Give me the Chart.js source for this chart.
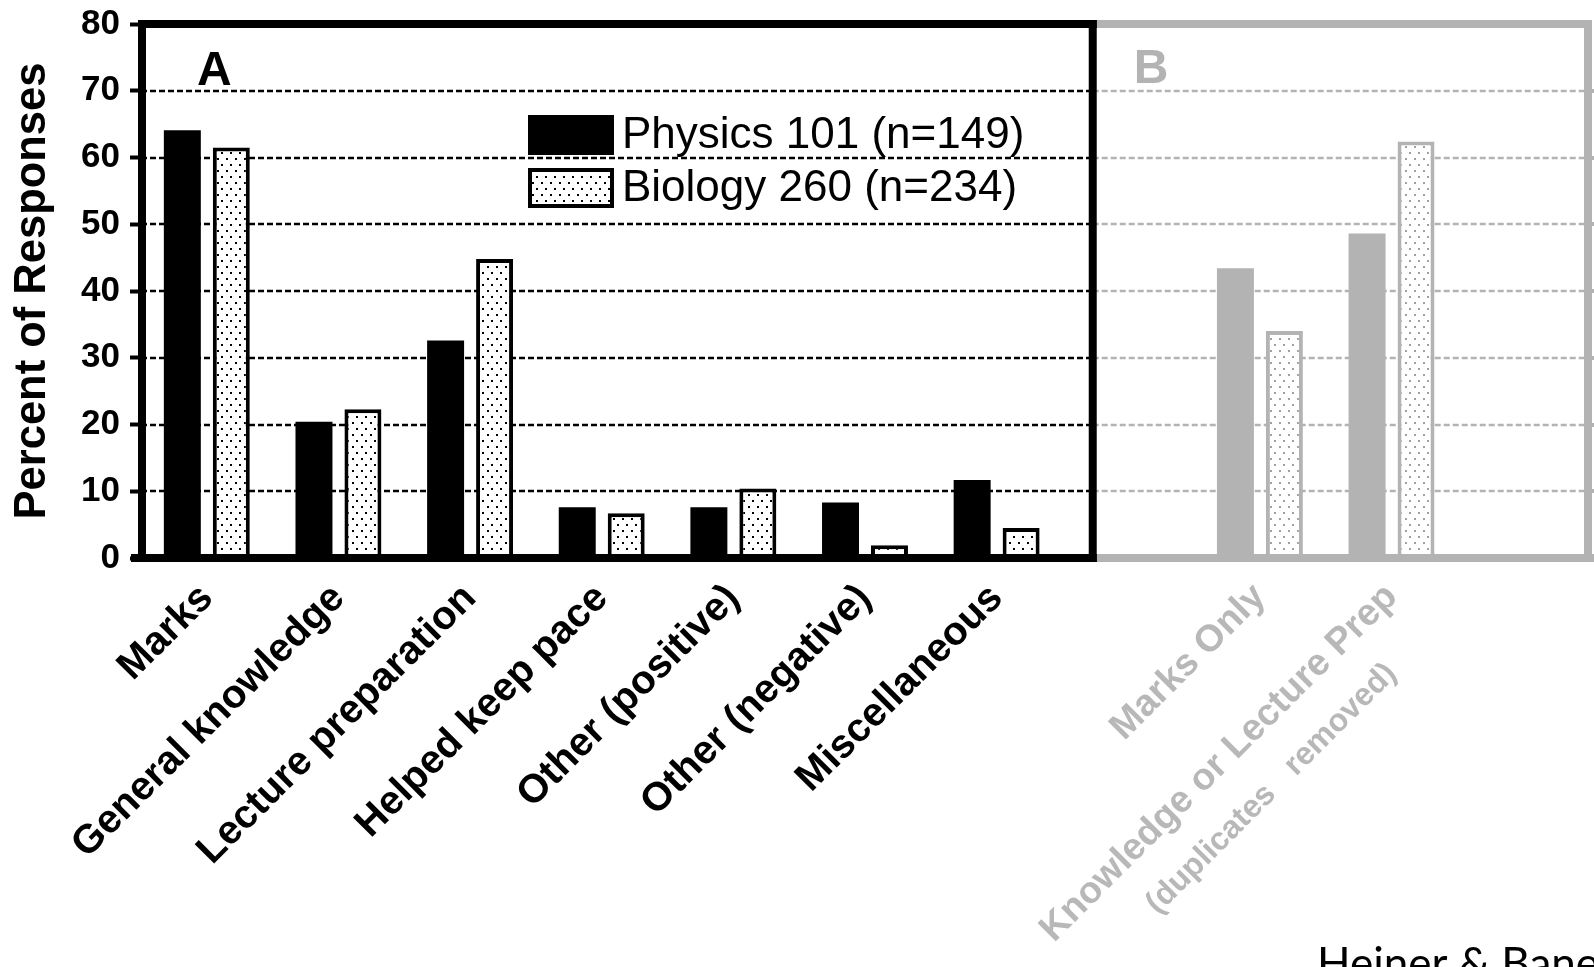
<!DOCTYPE html>
<html><head><meta charset="utf-8">
<script src="https://cdn.jsdelivr.net/npm/chart.js@4"></script>
<style>html,body{margin:0;padding:0;background:#fff;overflow:hidden}#wrap{position:relative;width:1594px;height:967px}</style>
</head><body><div id="wrap"><canvas id="c" width="1594" height="967"></canvas></div>
<script>
const categories = ["Marks","General knowledge","Lecture preparation","Helped keep pace","Other (positive)","Other (negative)","Miscellaneous","","Marks Only","Knowledge or Lecture Prep",""];
const physics101 = [64.1,20.4,32.6,7.6,7.6,8.3,11.7,null,43.4,48.6,null];
const biology260 = [61.5,22.3,44.8,6.7,10.4,1.9,4.5,null,34.0,62.4,null];
const seriesNames = ["Physics 101 (n=149)","Biology 260 (n=234)"];
const yTicks = [0,10,20,30,40,50,60,70,80];
const panelLetters = ["A","B"];
const panelBSubLabel = "(duplicates   removed)";
const panelBStart = 7;
const credit = "Heiner & Bane";

const FONT = "'Liberation Sans', Arial, Helvetica, sans-serif";
const GRAY = '#b3b3b3';
const GRAYTXT = '#b8b8b8';
function dots(color){
  const c=document.createElement('canvas'); c.width=9; c.height=12;
  const x=c.getContext('2d'); x.fillStyle='#fff'; x.fillRect(0,0,9,12);
  x.fillStyle=color; x.fillRect(1,2,2,2); x.fillRect(5,8,2,2);
  return x.createPattern(c,'repeat');
}
const dotsBlack = dots('#000');
const dotsGray = dots('#a0a0a0');
const isB = c => c.dataIndex >= panelBStart;

const panelPlugin = {
  id:'panels',
  beforeDatasetsDraw(chart){
    const {ctx, chartArea:a, scales:{x,y}} = chart;
    const xd = x.getPixelForValue(panelBStart - 0.27);
    ctx.save();
    ctx.lineWidth=2.4; ctx.setLineDash([6,3]);
    y.ticks.forEach(t=>{
      if(t.value<=yTicks[0]||t.value>=yTicks[yTicks.length-1]) return;
      const py=Math.round(y.getPixelForValue(t.value));
      ctx.strokeStyle='#000'; ctx.beginPath(); ctx.moveTo(a.left,py); ctx.lineTo(xd,py); ctx.stroke();
      ctx.strokeStyle=GRAY; ctx.beginPath(); ctx.moveTo(xd,py); ctx.lineTo(a.right,py); ctx.stroke();
    });
    ctx.restore();
  },
  afterDatasetsDraw(chart){
    const {ctx, chartArea:a, scales:{x,y}} = chart;
    const xd = x.getPixelForValue(panelBStart - 0.27);
    const L=a.left+1, T=a.top, B=a.bottom, R=a.right-1;
    const line=(x1,y1,x2,y2)=>{ctx.beginPath();ctx.moveTo(x1,y1);ctx.lineTo(x2,y2);ctx.stroke();};
    ctx.save();
    ctx.setLineDash([]);
    ctx.strokeStyle=GRAY; ctx.lineWidth=8;
    line(xd,T,R+4,T); line(R,T-4,R,B+4); line(xd,B,chart.width,B);
    ctx.lineWidth=4;
    y.ticks.forEach(t=>{ if(t.value<=yTicks[0]||t.value>=yTicks[yTicks.length-1]) return;
      const py=Math.round(y.getPixelForValue(t.value)); line(R,py,R+12,py); });
    ctx.strokeStyle='#000'; ctx.lineWidth=8;
    line(L-4,T,xd+4,T); line(L,T-4,L,B+4); line(xd,T-4,xd,B+4); line(L-11,B,xd+4,B);
    ctx.font = "bold 48px "+FONT; ctx.textBaseline='alphabetic'; ctx.textAlign='left';
    ctx.fillStyle='#000'; ctx.fillText(panelLetters[0], a.left+56, T+61);
    ctx.fillStyle=GRAY; ctx.fillText(panelLetters[1], xd+41, T+59);
    const ds = chart.data.datasets;
    const lx=528, ly=115, bw=86, bh=40, gap=53;
    ds.forEach((d,i)=>{
      const yy=ly+i*gap;
      if(i===0){ ctx.fillStyle='#000'; ctx.fillRect(lx,yy,bw,bh); }
      else { ctx.fillStyle=dotsBlack; ctx.fillRect(lx,yy,bw,bh); ctx.strokeStyle='#000'; ctx.lineWidth=4; ctx.strokeRect(lx+2,yy+2,bw-4,bh-4); }
      ctx.fillStyle='#000'; ctx.font="44px "+FONT; ctx.textBaseline='middle'; ctx.textAlign='left';
      ctx.fillText(d.label, lx+94, yy+bh/2+1);
    });
    const px = x.getPixelForValue(panelBStart+2);
    const py = B + 17 + 0.354*37.5*1.2;
    ctx.save(); ctx.translate(px,py); ctx.rotate(-Math.PI/4);
    ctx.fillStyle=GRAYTXT; ctx.font="bold 32px "+FONT; ctx.textAlign='right'; ctx.textBaseline='middle';
    ctx.fillText(panelBSubLabel, -55, 55);
    ctx.restore();
    ctx.fillStyle='#000'; ctx.font="44px Lato, 'Open Sans', sans-serif"; ctx.textBaseline='alphabetic'; ctx.textAlign='left';
    ctx.fillText(credit, 1317, 979);
    ctx.restore();
  }
};

new Chart(document.getElementById('c'), {
  type:'bar',
  data:{
    labels: categories,
    datasets:[
      {label: seriesNames[0], data: physics101, backgroundColor: c=> isB(c)?GRAY:'#000', borderWidth:0},
      {label: seriesNames[1], data: biology260, backgroundColor: c=> isB(c)?dotsGray:dotsBlack,
       borderColor: c=> isB(c)?GRAY:'#000', borderWidth:4}
    ]
  },
  options:{
    responsive:false, animation:false,
    categoryPercentage:0.744, barPercentage:0.755,
    layout:{padding:{left:0,right:5,top:24,bottom:0}},
    plugins:{legend:{display:false}, tooltip:{enabled:false}},
    scales:{
      x:{ type:'category', offset:true, grid:{display:false, drawTicks:false}, border:{display:false},
        ticks:{ autoSkip:false, maxRotation:45, minRotation:45, padding:17,
          color: c => c.index>=panelBStart ? GRAYTXT : '#000',
          font: c => ({family:FONT, weight:'bold', size: c.index>=panelBStart?37.5:40}) },
        afterFit: s => { s.height = 409; s.paddingLeft = 0; s.paddingRight = 0; } },
      y:{ min:yTicks[0], max:yTicks[yTicks.length-1],
        afterBuildTicks: s => { s.ticks = yTicks.map(v=>({value:v})); },
        ticks:{ color:'#000', padding:10, font:{family:FONT, weight:'bold', size:35} },
        grid:{ display:true, drawOnChartArea:false, drawTicks:true, tickLength:11, tickWidth:4, tickColor:'#000' },
        border:{display:false},
        title:{ display:true, text:'Percent of Responses', color:'#000', font:{family:FONT, weight:'bold', size:43.5}, padding:{top:7,bottom:0} },
        afterFit: s => { s.width = 141; s.paddingTop = 0; s.paddingBottom = 0; } }
    }
  },
  plugins:[panelPlugin]
});
</script></body></html>
